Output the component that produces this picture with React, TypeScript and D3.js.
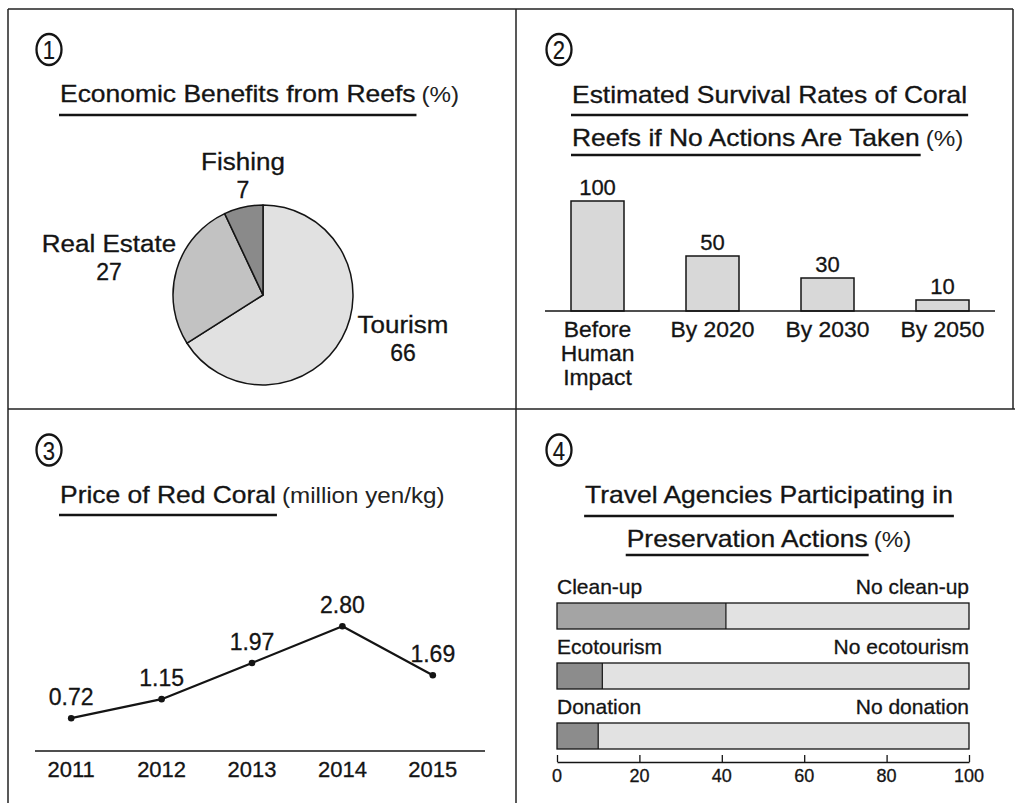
import React, { useEffect, useRef } from 'react';
import * as d3 from 'd3';

// ---- data ----
const pieLabels = ['Tourism', 'Real Estate', 'Fishing'];
const pieValues = [66, 27, 7];

const survivalCategories = [['Before', 'Human', 'Impact'], ['By 2020'], ['By 2030'], ['By 2050']];
const survivalValues = [100, 50, 30, 10];

const priceYears = ['2011', '2012', '2013', '2014', '2015'];
const priceValues = [0.72, 1.15, 1.97, 2.8, 1.69];

const actionLabels = ['Clean-up', 'Ecotourism', 'Donation'];
const noActionLabels = ['No clean-up', 'No ecotourism', 'No donation'];
const actionValues = [41, 11, 10];
const actionTicks = [0, 20, 40, 60, 80, 100];

// ---- layout ----
const W = 1015;
const H = 803;
const INK = '#141414';
const FONT = "'Liberation Sans', Arial, Helvetica, sans-serif";
const TITLE_SX = 1.15;

const pieFills = ['#e1e1e1', '#c2c2c2', '#8a8a8a'];
const pieLabelAt = [[403, 333], [109, 252], [243, 170]];

const text = (g, x, y, s, size = 22, anchor = 'start', sx = 1) =>
    g.append('text')
        .attr('transform', `translate(${x},${y}) scale(${sx},1)`)
        .attr('text-anchor', anchor)
        .attr('fill', INK)
        .attr('stroke', INK)
        .attr('stroke-width', 0.3)
        .style('font-size', `${size}px`)
        .text(s);

// title text with thick underline, optional "(unit)" after it
const title = (g, x, y, main, paren, ulY, anchor = 'start') => {
    const t = text(g, 0, y, main, 23, 'start', TITLE_SX);
    const w = t.node().getComputedTextLength() * TITLE_SX;
    let pw = 0;
    let p = null;
    if (paren) {
        p = text(g, 0, y, paren, 22, 'start', 1.1).attr('fill', '#222').attr('stroke', 'none');
        pw = p.node().getComputedTextLength() * 1.1;
    }
    const total = w + (paren ? 6 + pw : 0);
    const x0 = anchor === 'middle' ? x - total / 2 : x;
    t.attr('transform', `translate(${x0},${y}) scale(${TITLE_SX},1)`);
    if (p) p.attr('transform', `translate(${x0 + w + 6},${y}) scale(1.1,1)`);
    g.append('line')
        .attr('x1', x0 - 1).attr('x2', x0 + w + 1)
        .attr('y1', ulY).attr('y2', ulY)
        .attr('stroke', INK).attr('stroke-width', 2.6);
};

const badge = (g, cx, cy, n) => {
    g.append('ellipse')
        .attr('cx', cx).attr('cy', cy).attr('rx', 12.5).attr('ry', 15.5)
        .attr('fill', 'none').attr('stroke', INK).attr('stroke-width', 2.3);
    text(g, cx, cy + 9.5, n, 26, 'middle', 0.85).attr('stroke-width', 0.2);
};

const drawFrame = (svg) => {
    const lines = [
        [8, 9, 1013, 9],
        [8, 9, 8, H],
        [516, 9, 516, H],
        [8, 409, W, 409],
        [1013, 9, 1013, 409],
    ];
    svg.append('g').selectAll('line').data(lines).enter().append('line')
        .attr('x1', d => d[0]).attr('y1', d => d[1])
        .attr('x2', d => d[2]).attr('y2', d => d[3])
        .attr('stroke', '#222').attr('stroke-width', 1.5);
};

const drawPie = (svg) => {
    const g = svg.append('g');
    badge(g, 49, 49.5, '1');
    title(g, 60, 102, 'Economic Benefits from Reefs', '(%)', 115);

    const r = 90;
    const pie = d3.pie().sort(null).value(d => d)(pieValues);
    const arc = d3.arc().innerRadius(0).outerRadius(r);
    const pg = g.append('g').attr('transform', 'translate(263,295)');
    pg.selectAll('path').data(pie).enter().append('path')
        .attr('d', arc)
        .attr('fill', (d, i) => pieFills[i])
        .attr('stroke', INK).attr('stroke-width', 1.5)
        .attr('stroke-linejoin', 'round');

    pieLabels.forEach((lab, i) => {
        const [x, y] = pieLabelAt[i];
        text(g, x, y, lab, 23, 'middle', 1.13);
        text(g, x, y + 28, String(pieValues[i]), 23, 'middle');
    });
};

const drawSurvival = (svg) => {
    const g = svg.append('g');
    badge(g, 559, 49.5, '2');
    title(g, 572, 103, 'Estimated Survival Rates of Coral', null, 115);
    title(g, 572, 146, 'Reefs if No Actions Are Taken', '(%)', 155);

    const x = d3.scalePoint().domain(d3.range(survivalValues.length)).range([540, 1000]).padding(0.5);
    const y = d3.scaleLinear().domain([0, 100]).range([311, 201]);
    const bw = 53;

    g.selectAll('rect.bar').data(survivalValues).enter().append('rect')
        .attr('class', 'bar')
        .attr('x', (d, i) => x(i) - bw / 2)
        .attr('y', d => y(d))
        .attr('width', bw)
        .attr('height', d => y(0) - y(d))
        .attr('fill', '#d8d8d8')
        .attr('stroke', INK).attr('stroke-width', 1.5);

    g.append('line')
        .attr('x1', 545).attr('x2', 995).attr('y1', y(0)).attr('y2', y(0))
        .attr('stroke', INK).attr('stroke-width', 1.5);

    survivalValues.forEach((v, i) => {
        text(g, x(i), y(v) - 6, String(v), 22, 'middle');
        survivalCategories[i].forEach((line, j) => {
            text(g, x(i), y(0) + 26 + j * 24, line, 22, 'middle', 1.04);
        });
    });
};

const drawPrice = (svg) => {
    const g = svg.append('g');
    badge(g, 49, 450, '3');
    title(g, 60, 503, 'Price of Red Coral', '(million yen/kg)', 515);

    const x = d3.scalePoint().domain(priceYears).range([26, 478]).padding(0.5);
    const y = d3.scaleLinear().domain([0, 3]).range([750, 617.4]);

    g.append('line')
        .attr('x1', 35).attr('x2', 485).attr('y1', 751).attr('y2', 751)
        .attr('stroke', INK).attr('stroke-width', 1.3);

    const line = d3.line().x((d, i) => x(priceYears[i])).y(d => y(d));
    g.append('path')
        .attr('d', line(priceValues))
        .attr('fill', 'none')
        .attr('stroke', INK).attr('stroke-width', 2.2)
        .attr('stroke-linejoin', 'round');

    g.selectAll('circle').data(priceValues).enter().append('circle')
        .attr('cx', (d, i) => x(priceYears[i]))
        .attr('cy', d => y(d))
        .attr('r', 3.3)
        .attr('fill', INK);

    priceValues.forEach((v, i) => {
        text(g, x(priceYears[i]), y(v) - 13, v.toFixed(2), 23, 'middle');
        text(g, x(priceYears[i]), 777, priceYears[i], 22, 'middle');
    });
};

const drawActions = (svg) => {
    const g = svg.append('g');
    badge(g, 559, 450, '4');
    title(g, 769, 503, 'Travel Agencies Participating in', null, 516, 'middle');
    title(g, 769, 547, 'Preservation Actions', '(%)', 555, 'middle');

    const x = d3.scaleLinear().domain([0, 100]).range([557, 969]);
    const y = d3.scaleBand().domain(actionLabels).range([603, 749]).paddingInner(34 / 60).paddingOuter(0);
    const bh = y.bandwidth();

    actionLabels.forEach((lab, i) => {
        const top = y(lab);
        const v = actionValues[i];
        g.append('rect')
            .attr('x', x(v)).attr('y', top)
            .attr('width', x(100) - x(v)).attr('height', bh)
            .attr('fill', '#e2e2e2');
        g.append('rect')
            .attr('x', x(0)).attr('y', top)
            .attr('width', x(v) - x(0)).attr('height', bh)
            .attr('fill', i === 0 ? '#a4a4a4' : '#8c8c8c');
        g.append('rect')
            .attr('x', x(0)).attr('y', top)
            .attr('width', x(100) - x(0)).attr('height', bh)
            .attr('fill', 'none')
            .attr('stroke', INK).attr('stroke-width', 1.3);
        g.append('line')
            .attr('x1', x(v)).attr('x2', x(v)).attr('y1', top).attr('y2', top + bh)
            .attr('stroke', INK).attr('stroke-width', 1.2);
        text(g, x(0), top - 9, lab, 21, 'start');
        text(g, x(100), top - 9, noActionLabels[i], 21, 'end');
    });

    const axisY = 762;
    const axis = d3.axisTop(x).tickValues(actionTicks).tickSize(7).tickSizeOuter(0).tickFormat(() => '');
    const ag = g.append('g').attr('transform', `translate(0,${axisY})`).call(axis);
    ag.select('.domain').attr('stroke', INK).attr('stroke-width', 1.3);
    ag.selectAll('.tick line').attr('stroke', INK).attr('stroke-width', 1.3);

    actionTicks.forEach(t => {
        text(g, x(t), 782, String(t), 18, 'middle');
    });
};

export default function App() {
    const ref = useRef(null);

    useEffect(() => {
        const svg = d3.select(ref.current);
        svg.selectAll('*').remove();
        drawFrame(svg);
        drawPie(svg);
        drawSurvival(svg);
        drawPrice(svg);
        drawActions(svg);
    }, []);

    return (
        <div style={{ position: 'absolute', left: 0, top: 0, width: W, height: H, background: '#fff' }}>
            <svg ref={ref} width={W} height={H} style={{ display: 'block', fontFamily: FONT }} />
        </div>
    );
}
